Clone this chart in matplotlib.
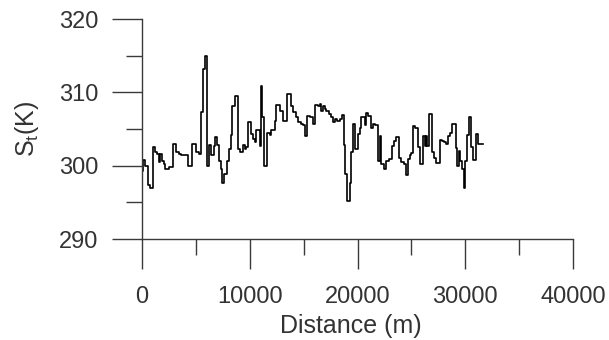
import matplotlib
matplotlib.use("Agg")
import matplotlib.pyplot as plt
from matplotlib.ticker import MultipleLocator

plt.rcParams['font.family'] = ['Liberation Sans', 'DejaVu Sans']

distance_m = [
    0, 62, 309, 556, 711, 1020, 1175, 1391, 1546, 1700, 1855, 2010, 2164, 2474,
    2875, 3185, 3401, 3649, 4267, 4638, 5040, 5257, 5504, 5659, 5813, 6030,
    6184, 6432, 6679, 6803, 6988, 7112, 7297, 7452, 7607, 7916,
    8070, 8224, 8348, 8595, 8905, 9059, 9368, 9523, 9678, 9832, 10141, 10296,
    10451, 10605, 10914, 11069, 11162, 11316, 11626, 11842, 11997, 12306,
    12460, 12770, 13079, 13481, 13790, 14006, 14254, 14470, 14717, 14934,
    15150, 15336, 15553, 15862, 16078,
    16326, 16481, 16635, 16790, 16944, 17099, 17315, 17563, 17717, 17872,
    18119, 18336, 18552, 18738, 18861, 19047, 19294, 19418, 19573, 19727,
    20036, 20191, 20346, 20655, 20809, 20964, 21211, 21428, 21582, 21892,
    22046, 22201, 22448, 22665, 22881, 23190, 23376, 23592, 23809, 24056,
    24304, 24520,
    24674, 24829, 24983, 25138, 25354, 25602, 25756, 26065, 26220, 26375,
    26467, 26622, 26931, 27086, 27302, 27611, 27828, 28013, 28230, 28384,
    28539, 28786, 29157, 29250, 29374, 29559, 29714, 29868, 30023, 30178,
    30332, 30549, 30765, 31013, 31229, 31630,
]
st_k = [
    299.3, 300.8, 300.0, 297.3, 296.9, 302.5, 301.8, 301.6, 300.5, 301.6, 300.7,
    300.2, 299.5, 299.8, 303.0, 301.9, 301.6, 301.5, 299.9, 303.0, 301.8, 301.6,
    307.3, 313.2, 314.9, 300.0, 302.8, 301.5, 302.7, 303.9, 302.8, 300.7, 299.5,
    297.7, 298.9, 300.7,
    302.3, 304.2, 308.2, 309.5, 302.3, 301.8, 302.8, 302.3, 302.5, 305.9, 304.3,
    303.6, 303.2, 304.8, 302.7, 310.9, 306.6, 300.0, 304.5, 304.2, 304.9, 306.1,
    308.3, 307.4, 306.1, 309.8, 308.2, 307.3, 306.7, 305.9, 305.7, 305.5, 304.1,
    306.8, 306.7, 305.7, 308.3,
    308.2, 308.4, 307.5, 308.2, 307.7, 307.4, 307.0, 306.6, 305.9, 306.4, 306.1,
    306.4, 306.9, 302.8, 298.9, 295.2, 297.7, 301.8, 305.7, 302.3, 304.3, 305.2,
    306.6, 305.5, 307.2, 306.8, 305.2, 305.7, 305.5, 300.7, 304.0, 300.2, 299.5,
    300.7, 300.9, 302.7, 303.3, 303.9, 301.1, 300.5, 300.2, 298.7,
    300.9, 301.4, 301.7, 305.4, 305.1, 302.5, 300.2, 304.1, 302.7, 304.1, 302.7,
    307.0, 301.8, 301.1, 300.4, 303.5, 303.3, 303.2, 303.0, 304.1, 304.5, 305.7,
    302.4, 300.0, 302.0, 300.7, 299.5, 296.9, 300.7, 304.2, 306.7, 302.5, 300.8,
    304.3, 303.0, 303.0,
]

x_ticks = [0, 10000, 20000, 30000, 40000]
x_tick_labels = ['0', '10000', '20000', '30000', '40000']
y_ticks = [290, 300, 310, 320]
y_tick_labels = ['290', '300', '310', '320']

W, H = 609, 340
fig = plt.figure(figsize=(W / 100, H / 100), dpi=100)
ax = fig.add_axes([142 / W, (H - 239) / H, (573 - 142) / W, (239 - 19) / H])

ax.plot(distance_m, st_k, color='black', lw=1.2, drawstyle='steps-post')

ax.set_xlim(0, 40000)
ax.set_ylim(290, 320)
ax.set_xticks(x_ticks)
ax.set_xticklabels(x_tick_labels)
ax.set_yticks(y_ticks)
ax.set_yticklabels(y_tick_labels)
ax.xaxis.set_minor_locator(MultipleLocator(5000))
ax.yaxis.set_minor_locator(MultipleLocator(5))

for s in ['top', 'right']:
    ax.spines[s].set_visible(False)
spine_col = '#3a3a3a'
for s in ['left', 'bottom']:
    ax.spines[s].set_color(spine_col)
    ax.spines[s].set_linewidth(1.0)

ax.tick_params(which='major', direction='out', length=21.6, width=1.0,
               color=spine_col, labelsize=17, labelcolor='#333333', pad=10)
ax.tick_params(which='minor', direction='out', length=11.5, width=1.0,
               color=spine_col)
ax.tick_params(axis='x', which='major', pad=12)

ax.set_xlabel('Distance (m)', fontsize=18, color='#333333')
ax.xaxis.set_label_coords((351 - 142) / 431, (239 - 326) / 220)
ax.xaxis.label.set_va('center')
ax.set_ylabel(r'$\mathregular{S_t}$(K)', fontsize=18, color='#333333')
ax.yaxis.set_label_coords((27 - 142) / 431, 0.5)
ax.yaxis.label.set_va('center')

fig.savefig('out.png', dpi=100)
